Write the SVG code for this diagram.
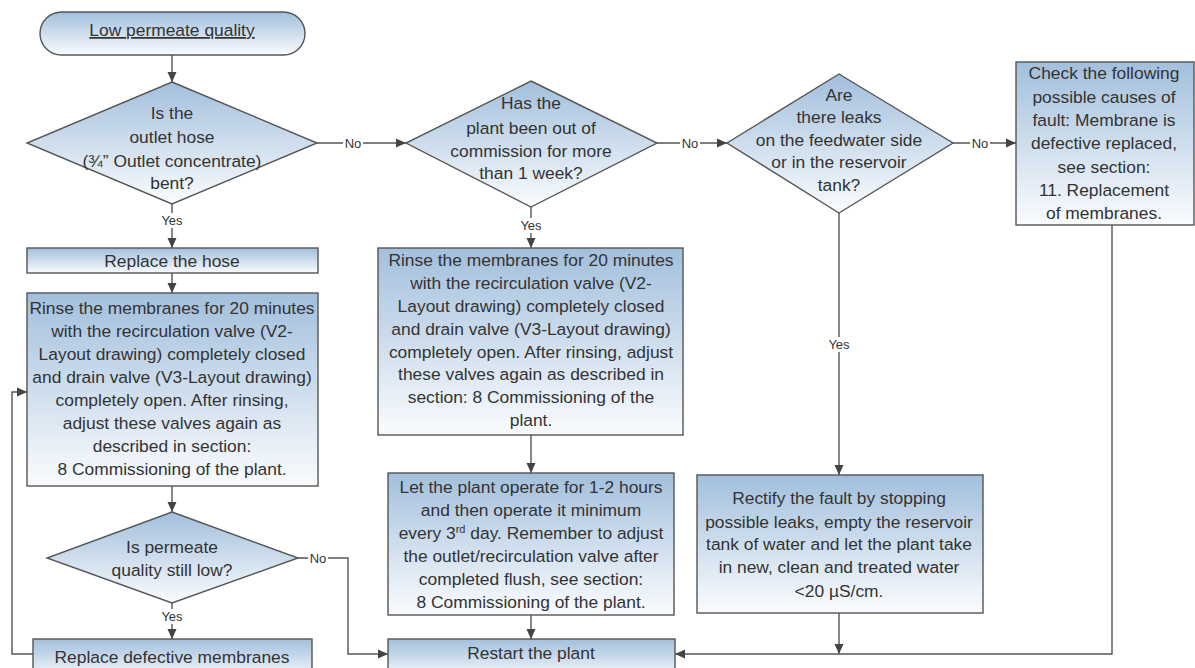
<svg xmlns="http://www.w3.org/2000/svg" width="1195" height="668" viewBox="0 0 1195 668">
<style>
.n{fill:url(#g);stroke:#555;stroke-width:1.4}
.t{font-family:"Liberation Sans",Arial,sans-serif;font-size:17.4px;fill:#333;text-anchor:middle}
.c{fill:none;stroke:#555;stroke-width:1.4}
.l{font-family:"Liberation Sans",Arial,sans-serif;font-size:13px;fill:#333;text-anchor:middle}
.bg{fill:#fff}
</style>
<defs>
<linearGradient id="g" x1="0" y1="0" x2="0" y2="1">
<stop offset="0" stop-color="#a2bfdc"/>
<stop offset="1" stop-color="#fafcfe"/>
</linearGradient>
<marker id="a" viewBox="0 0 10 10" refX="10" refY="5" markerWidth="10" markerHeight="10" markerUnits="userSpaceOnUse" orient="auto">
<path d="M0,0.5 L10,5 L0,9.5 z" fill="#444"/>
</marker>
</defs>

<g id="connectors">
<path class="c" d="M172,55 V82" marker-end="url(#a)"/>
<path class="c" d="M172,204 V248" marker-end="url(#a)"/>
<path class="c" d="M172,273 V293" marker-end="url(#a)"/>
<path class="c" d="M172,486 V512" marker-end="url(#a)"/>
<path class="c" d="M172,603 V639" marker-end="url(#a)"/>
<path class="c" d="M298,558 H348 V654 H388" marker-end="url(#a)"/>
<path class="c" d="M33,654 H12 V392 H27" marker-end="url(#a)"/>
<path class="c" d="M317,143 H406" marker-end="url(#a)"/>
<path class="c" d="M531,207 V248" marker-end="url(#a)"/>
<path class="c" d="M531,435 V473" marker-end="url(#a)"/>
<path class="c" d="M531,615 V639" marker-end="url(#a)"/>
<path class="c" d="M657,143 H727" marker-end="url(#a)"/>
<path class="c" d="M953,143 H1016" marker-end="url(#a)"/>
<path class="c" d="M839,213 V475" marker-end="url(#a)"/>
<path class="c" d="M839,613 V654" marker-end="url(#a)"/>
<path class="c" d="M1112,225 V654 H675" marker-end="url(#a)"/>
<rect class="bg" x="159" y="213" width="26" height="15"/><text class="l" x="172" y="225">Yes</text>
<rect class="bg" x="159" y="609" width="26" height="15"/><text class="l" x="172" y="621">Yes</text>
<rect class="bg" x="308" y="551" width="20" height="15"/><text class="l" x="318" y="563">No</text>
<rect class="bg" x="343" y="136" width="20" height="15"/><text class="l" x="353" y="148">No</text>
<rect class="bg" x="518" y="218" width="26" height="15"/><text class="l" x="531" y="230">Yes</text>
<rect class="bg" x="680" y="136" width="20" height="15"/><text class="l" x="690" y="148">No</text>
<rect class="bg" x="970" y="136" width="20" height="15"/><text class="l" x="980" y="148">No</text>
<rect class="bg" x="826" y="337" width="26" height="15"/><text class="l" x="839" y="349">Yes</text>
</g>

<g id="start">
<rect class="n" x="40" y="12" width="265" height="43" rx="21.5"/>
<text class="t" x="172" y="36" text-decoration="underline">Low permeate quality</text>
</g>

<g id="d1">
<polygon class="n" points="172,82 317,143 172,204 27,143"/>
<text class="t" x="172" y="119">Is the</text>
<text class="t" x="172" y="143">outlet hose</text>
<text class="t" x="172" y="167">(¾” Outlet concentrate)</text>
<text class="t" x="172" y="189">bent?</text>
</g>

<g id="hose">
<rect class="n" x="27" y="248" width="291" height="25"/>
<text class="t" x="172" y="267">Replace the hose</text>
</g>

<g id="rinse1">
<rect class="n" x="27" y="293" width="291" height="193"/>
<text class="t" x="172" y="314">Rinse the membranes for 20 minutes</text>
<text class="t" x="172" y="337">with the recirculation valve (V2-</text>
<text class="t" x="172" y="360">Layout drawing) completely closed</text>
<text class="t" x="172" y="383">and drain valve (V3-Layout drawing)</text>
<text class="t" x="172" y="406">completely open. After rinsing,</text>
<text class="t" x="172" y="429">adjust these valves again as</text>
<text class="t" x="172" y="452">described in section:</text>
<text class="t" x="172" y="475">8 Commissioning of the plant.</text>
</g>

<g id="d4">
<polygon class="n" points="172,512 298,558 172,603 47,558"/>
<text class="t" x="172" y="553">Is permeate</text>
<text class="t" x="172" y="576">quality still low?</text>
</g>

<g id="replace">
<rect class="n" x="33" y="639" width="279" height="40"/>
<text class="t" x="172" y="663">Replace defective membranes</text>
</g>

<g id="d2">
<polygon class="n" points="531,81 657,143 531,207 406,143"/>
<text class="t" x="531" y="109">Has the</text>
<text class="t" x="531" y="134">plant been out of</text>
<text class="t" x="531" y="157">commission for more</text>
<text class="t" x="531" y="179">than 1 week?</text>
</g>

<g id="rinse2">
<rect class="n" x="378" y="248" width="305" height="187"/>
<text class="t" x="531" y="266">Rinse the membranes for 20 minutes</text>
<text class="t" x="531" y="289">with the recirculation valve (V2-</text>
<text class="t" x="531" y="312">Layout drawing) completely closed</text>
<text class="t" x="531" y="335">and drain valve (V3-Layout drawing)</text>
<text class="t" x="531" y="358">completely open. After rinsing, adjust</text>
<text class="t" x="531" y="380">these valves again as described in</text>
<text class="t" x="531" y="403">section: 8 Commissioning of the</text>
<text class="t" x="531" y="426">plant.</text>
</g>

<g id="operate">
<rect class="n" x="388" y="473" width="286" height="142"/>
<text class="t" x="531" y="493">Let the plant operate for 1-2 hours</text>
<text class="t" x="531" y="516">and then operate it minimum</text>
<text class="t" x="531" y="539">every 3<tspan font-size="11" dy="-6">rd</tspan><tspan dy="6"> day. Remember to adjust</tspan></text>
<text class="t" x="531" y="562">the outlet/recirculation valve after</text>
<text class="t" x="531" y="585">completed flush, see section:</text>
<text class="t" x="531" y="608">8 Commissioning of the plant.</text>
</g>

<g id="restart">
<rect class="n" x="388" y="639" width="287" height="40"/>
<text class="t" x="531" y="659">Restart the plant</text>
</g>

<g id="d3">
<polygon class="n" points="839,74 953,143 839,213 727,143"/>
<text class="t" x="839" y="101">Are</text>
<text class="t" x="839" y="123">there leaks</text>
<text class="t" x="839" y="146">on the feedwater side</text>
<text class="t" x="839" y="168">or in the reservoir</text>
<text class="t" x="839" y="191">tank?</text>
</g>

<g id="rectify">
<rect class="n" x="697" y="475" width="286" height="138"/>
<text class="t" x="839" y="504">Rectify the fault by stopping</text>
<text class="t" x="839" y="528">possible leaks, empty the reservoir</text>
<text class="t" x="839" y="550">tank of water and let the plant take</text>
<text class="t" x="839" y="573">in new, clean and treated water</text>
<text class="t" x="839" y="597">&lt;20 µS/cm.</text>
</g>

<g id="check">
<rect class="n" x="1016" y="62" width="178" height="163"/>
<text class="t" x="1104" y="79">Check the following</text>
<text class="t" x="1104" y="103">possible causes of</text>
<text class="t" x="1104" y="126">fault: Membrane is</text>
<text class="t" x="1104" y="149">defective replaced,</text>
<text class="t" x="1104" y="173">see section:</text>
<text class="t" x="1104" y="196">11. Replacement</text>
<text class="t" x="1104" y="219">of membranes.</text>
</g>
</svg>
